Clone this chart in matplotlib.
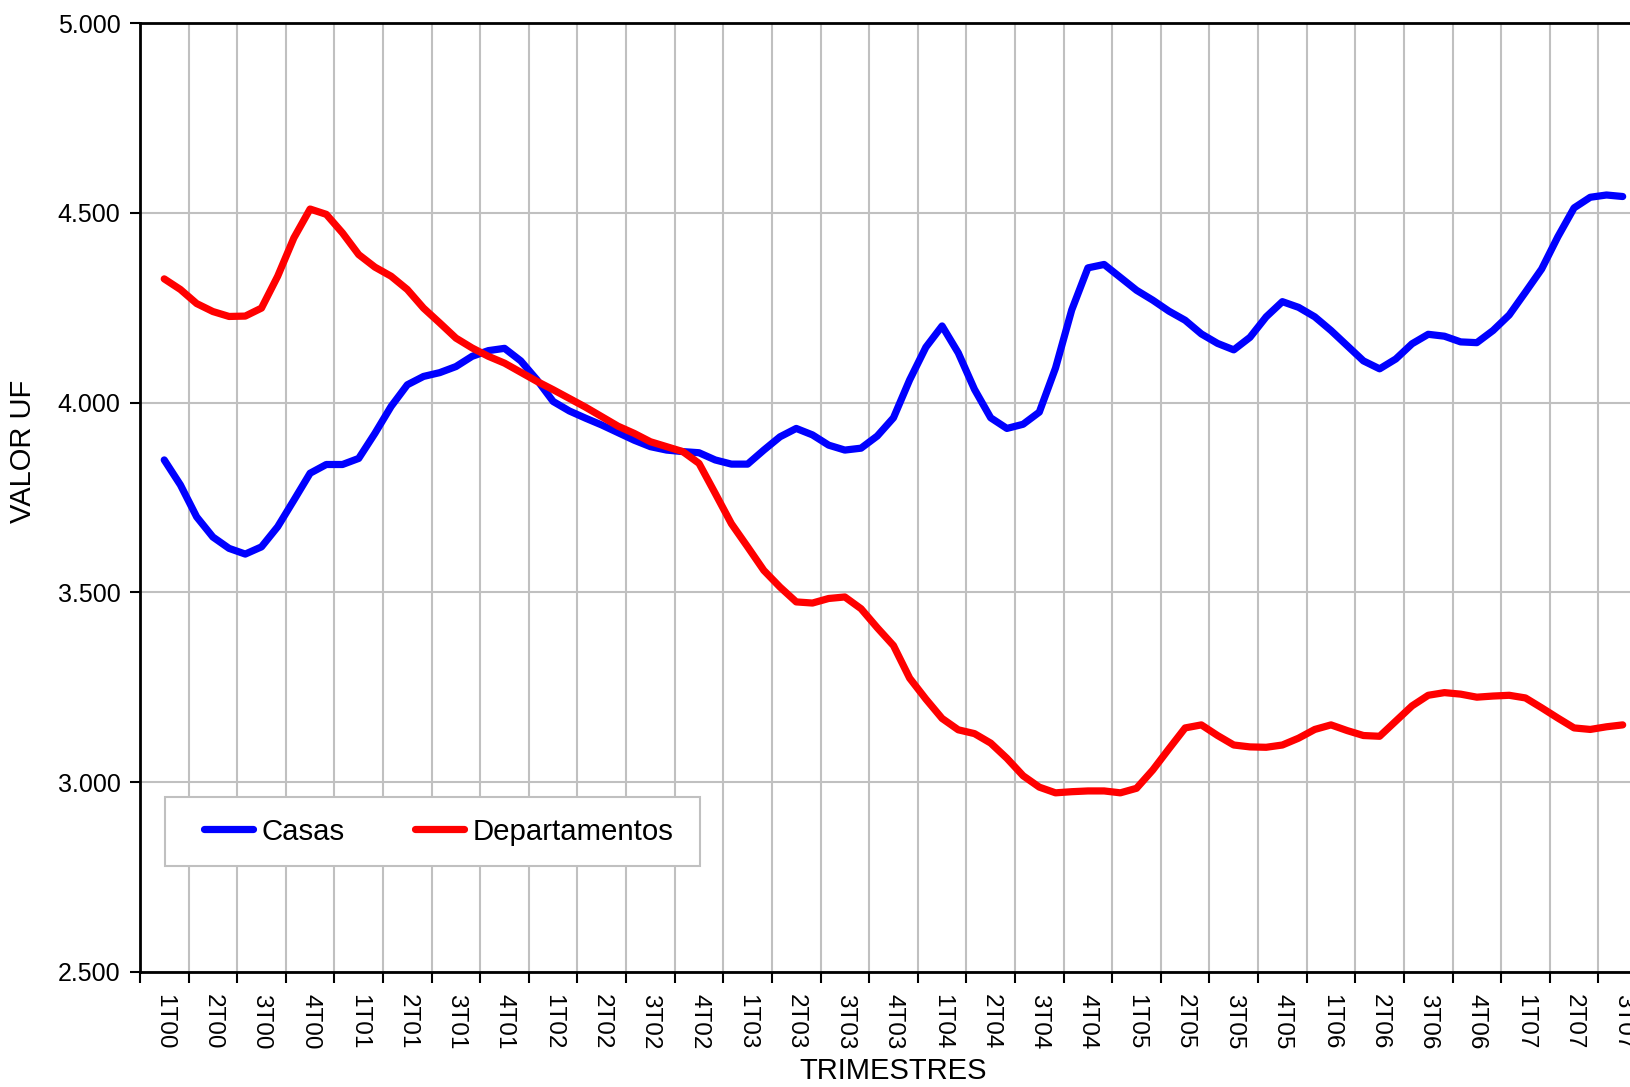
import numpy as np
import matplotlib.pyplot as plt
from matplotlib.patches import Rectangle

plt.rcParams['font.family'] = ['Liberation Sans', 'DejaVu Sans']

trimestres = ['1T00', '2T00', '3T00', '4T00', '1T01', '2T01', '3T01', '4T01',
              '1T02', '2T02', '3T02', '4T02', '1T03', '2T03', '3T03', '4T03',
              '1T04', '2T04', '3T04', '4T04', '1T05', '2T05', '3T05', '4T05',
              '1T06', '2T06', '3T06', '4T06', '1T07', '2T07', '3T07']

# valores mensuales (3 por trimestre), desde 1T00 hasta 3T07
casas = [3849, 3783, 3699, 3646, 3616, 3601, 3620, 3673, 3743, 3814,
         3837, 3837, 3853, 3919, 3990, 4047, 4069, 4079, 4095, 4122,
         4137, 4143, 4110, 4060, 4003, 3978, 3959, 3941, 3921, 3901,
         3884, 3875, 3871, 3868, 3849, 3838, 3838, 3875, 3910, 3932,
         3915, 3888, 3875, 3880, 3912, 3960, 4060, 4146, 4202, 4131,
         4035, 3960, 3932, 3943, 3975, 4091, 4244, 4355, 4364, 4330,
         4296, 4270, 4241, 4217, 4181, 4156, 4139, 4172, 4226, 4266,
         4251, 4226, 4190, 4150, 4110, 4089, 4115, 4155, 4180, 4175,
         4160, 4158, 4190, 4231, 4291, 4352, 4437, 4513, 4541, 4547,
         4543]

departamentos = [4326, 4298, 4261, 4240, 4227, 4228, 4249, 4333, 4434, 4510,
                 4496, 4447, 4390, 4357, 4333, 4298, 4249, 4210, 4170, 4144,
                 4122, 4104, 4080, 4056, 4034, 4011, 3988, 3963, 3938, 3919,
                 3897, 3884, 3871, 3840, 3761, 3681, 3620, 3558, 3514, 3475,
                 3472, 3484, 3488, 3457, 3407, 3360, 3274, 3219, 3168, 3138,
                 3128, 3103, 3063, 3017, 2987, 2972, 2975, 2977, 2977, 2972,
                 2984, 3032, 3088, 3143, 3151, 3123, 3098, 3093, 3092, 3098,
                 3116, 3139, 3151, 3136, 3123, 3121, 3161, 3201, 3229, 3236,
                 3232, 3224, 3227, 3229, 3222, 3196, 3169, 3143, 3139, 3146,
                 3151]

y_ticks = [2500, 3000, 3500, 4000, 4500, 5000]
y_labels = ['2.500', '3.000', '3.500', '4.000', '4.500', '5.000']

# cada mes es un tercio de trimestre, centrado en la categoria
x = 0.5 + np.arange(len(casas)) / 3

fig = plt.figure(figsize=(16.31, 10.87), dpi=100)
ax = fig.add_axes([0.0858, 0.1058, 0.924, 0.873])

ax.plot(x, casas, color='#0000ff', lw=5.2, label='Casas',
        solid_capstyle='round', solid_joinstyle='round', zorder=3)
ax.plot(x, departamentos, color='#ff0000', lw=5.2, label='Departamentos',
        solid_capstyle='round', solid_joinstyle='round', zorder=3)

ax.set_xlim(0, len(trimestres))
ax.set_ylim(2500, 5000)

ax.set_xticks(np.arange(len(trimestres) + 1))
ax.set_xticklabels([])
ax.set_xticks(np.arange(len(trimestres)) + 0.5, minor=True)
ax.set_xticklabels(trimestres, minor=True, rotation=270, fontsize=17.5)
ax.tick_params(axis='x', which='minor', length=0, pad=16)
ax.tick_params(axis='x', which='major', length=8, width=1.5, direction='out')

ax.set_yticks(y_ticks)
ax.set_yticklabels(y_labels, fontsize=18)
ax.tick_params(axis='y', length=7, width=1.5, pad=7)

ax.grid(True, which='major', color='#c0c0c0', lw=1.5)
ax.set_axisbelow(True)

for s in ['left', 'bottom', 'top']:
    ax.spines[s].set_linewidth(2)
ax.spines['right'].set_visible(False)

ax.set_xlabel('TRIMESTRES', fontsize=21)
ax.set_ylabel('VALOR UF', fontsize=21)
ax.yaxis.set_label_coords(-0.068, 0.549)
ax.xaxis.set_label_coords(0.5, -0.09)

# caja de la leyenda (gris, esquinas rectas)
ax.add_patch(Rectangle((0.0166, 0.1117), 0.355, 0.0727, transform=ax.transAxes,
                       facecolor='white', edgecolor='#c0c0c0', lw=1.5, zorder=4))
ax.legend(loc='center left', bbox_to_anchor=(0.0426, 0.1478), ncol=2,
          fontsize=21.2, frameon=False, handlelength=1.65, handletextpad=0.3,
          columnspacing=2.4, borderpad=0, borderaxespad=0).set_zorder(5)

plt.savefig('out.png', dpi=100)
